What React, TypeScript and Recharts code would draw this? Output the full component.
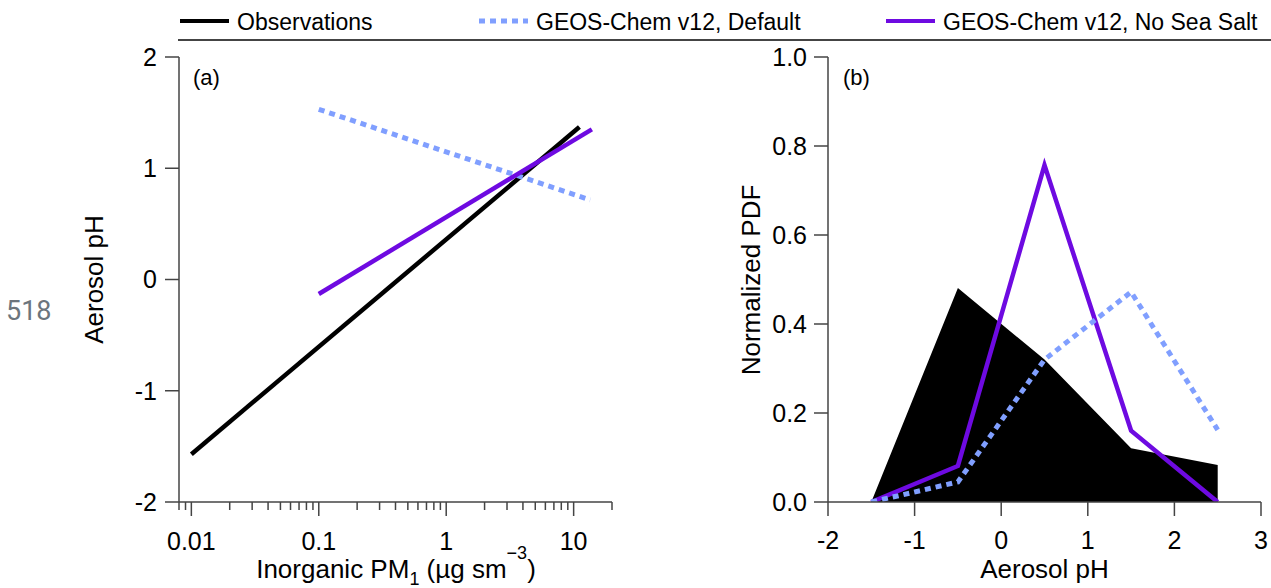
import { LineChart, ComposedChart, Line, Area, XAxis, YAxis } from "recharts"

// panel (a): fitted lines, inorganic PM1 vs aerosol pH
const OBS_FIT_PM = [0.01, 11.1]
const OBS_FIT_PH = [-1.57, 1.37]
const DEFAULT_FIT_PM = [0.1, 13.5]
const DEFAULT_FIT_PH = [1.53, 0.715]
const NOSALT_FIT_PM = [0.1, 13.9]
const NOSALT_FIT_PH = [-0.13, 1.35]

// panel (b): normalized pdf of aerosol pH
const PH_BINS = [-1.5, -0.5, 0.5, 1.5, 2.5]
const OBS_PDF = [0, 0.481, 0.32, 0.121, 0.083]
const DEFAULT_PDF = [0, 0.045, 0.32, 0.472, 0.162]
const NOSALT_PDF = [0, 0.081, 0.757, 0.16, 0]

const PH_TICKS_A = [-2, -1, 0, 1, 2]
const PM_TICKS = [0.008, 0.009, 0.01, 0.02, 0.03, 0.04, 0.05, 0.06, 0.07, 0.08, 0.09, 0.1, 0.2, 0.3, 0.4, 0.5, 0.6, 0.7, 0.8, 0.9, 1, 2, 3, 4, 5, 6, 7, 8, 9, 10, 20]
const PM_MAJOR = [0.01, 0.1, 1, 10]
const PH_TICKS_B = [-2, -1, 0, 1, 2, 3]
const PDF_TICKS = [0, 0.2, 0.4, 0.6, 0.8, 1.0]

const SERIES = [
    { name: "Observations", color: "#000000", dash: undefined },
    { name: "GEOS-Chem v12, Default", color: "#809fff", dash: "6 5" },
    { name: "GEOS-Chem v12, No Sea Salt", color: "#6e0ae1", dash: undefined },
]

const FONT = "'Liberation Sans', Arial, sans-serif"
const AXIS = "#444"

const pairs = (xs: number[], ys: number[]) => xs.map((x, i) => ({ x, y: ys[i] }))

const obsFit = pairs(OBS_FIT_PM, OBS_FIT_PH)
const defaultFit = pairs(DEFAULT_FIT_PM, DEFAULT_FIT_PH)
const noSaltFit = pairs(NOSALT_FIT_PM, NOSALT_FIT_PH)

const pdfData = PH_BINS.map((ph, i) => ({
    ph,
    obs: OBS_PDF[i],
    def: DEFAULT_PDF[i],
    nosalt: NOSALT_PDF[i],
}))

const LogTick = (props: any) => {
    const { x, y, payload } = props
    const v = payload.value
    const major = PM_MAJOR.includes(v)
    return (
        <g>
            <line x1={x} y1={y} x2={x} y2={y + (major ? 14 : 8)} stroke={AXIS} strokeWidth={1.5} />
            {major && (
                <text x={x} y={y + 48} textAnchor="middle" fontSize={25} fontFamily={FONT} fill="#000">
                    {String(v)}
                </text>
            )}
        </g>
    )
}

const tickStyle = { fontSize: 25, fontFamily: FONT, fill: "#000" }
const axisLine = { stroke: AXIS, strokeWidth: 1.5 }

const LEGEND_X = [180, 479, 886]

const App = () => {
    return (
        <div style={{ position: "absolute", left: 0, top: 0, width: 1271, height: 588, background: "#fff", overflow: "hidden" }}>

            <div style={{ position: "absolute", left: 0, top: 0 }}>
                <LineChart width={640} height={588} margin={{ top: 57, right: 28, bottom: 26, left: 100 }}>
                    <XAxis
                        type="number"
                        dataKey="x"
                        scale="log"
                        domain={[0.008, 20]}
                        allowDataOverflow
                        ticks={PM_TICKS}
                        interval={0}
                        tick={<LogTick />}
                        tickLine={false}
                        tickSize={0}
                        tickMargin={0}
                        axisLine={axisLine}
                        height={60}
                    />
                    <YAxis
                        type="number"
                        dataKey="y"
                        domain={[-2, 2]}
                        ticks={PH_TICKS_A}
                        interval={0}
                        allowDataOverflow
                        width={79}
                        tickSize={14}
                        tickMargin={8}
                        tick={tickStyle}
                        tickLine={axisLine}
                        axisLine={axisLine}
                    />
                    <Line data={obsFit} dataKey="y" type="linear" stroke={SERIES[0].color} strokeWidth={4.5} dot={false} isAnimationActive={false} />
                    <Line data={defaultFit} dataKey="y" type="linear" stroke={SERIES[1].color} strokeWidth={5} strokeDasharray={SERIES[1].dash} dot={false} isAnimationActive={false} />
                    <Line data={noSaltFit} dataKey="y" type="linear" stroke={SERIES[2].color} strokeWidth={4.5} dot={false} isAnimationActive={false} />
                </LineChart>
            </div>

            <div style={{ position: "absolute", left: 640, top: 0 }}>
                <ComposedChart width={631} height={588} data={pdfData} margin={{ top: 57, right: 10, bottom: 26, left: 108 }}>
                    <XAxis
                        type="number"
                        dataKey="ph"
                        domain={[-2, 3]}
                        ticks={PH_TICKS_B}
                        interval={0}
                        allowDataOverflow
                        height={60}
                        tickSize={14}
                        tickMargin={15}
                        tick={tickStyle}
                        tickLine={axisLine}
                        axisLine={axisLine}
                    />
                    <YAxis
                        type="number"
                        domain={[0, 1]}
                        ticks={PDF_TICKS}
                        interval={0}
                        allowDataOverflow
                        width={80}
                        tickSize={14}
                        tickMargin={7}
                        tick={tickStyle}
                        tickLine={axisLine}
                        axisLine={axisLine}
                        tickFormatter={(v: number) => v.toFixed(1)}
                    />
                    <Area dataKey="obs" type="linear" fill={SERIES[0].color} fillOpacity={1} stroke="none" isAnimationActive={false} />
                    <Line dataKey="nosalt" type="linear" stroke={SERIES[2].color} strokeWidth={4.5} dot={false} isAnimationActive={false} />
                    <Line dataKey="def" type="linear" stroke={SERIES[1].color} strokeWidth={5} strokeDasharray={SERIES[1].dash} dot={false} isAnimationActive={false} />
                </ComposedChart>
            </div>

            <svg width={1271} height={588} style={{ position: "absolute", left: 0, top: 0, pointerEvents: "none" }}>
                {SERIES.map((s, i) => (
                    <g key={s.name}>
                        <line x1={LEGEND_X[i]} y1={21} x2={LEGEND_X[i] + 49} y2={21} stroke={s.color} strokeWidth={s.dash ? 5 : 4} strokeDasharray={s.dash} />
                        <text x={LEGEND_X[i] + 57} y={30} fontSize={23} fontFamily={FONT} fill="#000">{s.name}</text>
                    </g>
                ))}
                <line x1={178} y1={40} x2={1271} y2={40} stroke={AXIS} strokeWidth={2} />

                <text x={193} y={85} fontSize={22} fontFamily={FONT} fill="#000">(a)</text>
                <text x={843} y={85} fontSize={22} fontFamily={FONT} fill="#000">(b)</text>

                <text transform="translate(103,279.5) rotate(-90)" textAnchor="middle" fontSize={26} fontFamily={FONT} fill="#000">Aerosol pH</text>
                <text transform="translate(760,280) rotate(-90)" textAnchor="middle" fontSize={26} fontFamily={FONT} fill="#000">Normalized PDF</text>

                <text x={396} y={578} textAnchor="middle" fontSize={26} fontFamily={FONT} fill="#000">
                    Inorganic PM<tspan fontSize={18} dy={7}>1</tspan>
                    <tspan dy={-7}> (µg sm</tspan>
                    <tspan fontSize={18} dy={-19}>−3</tspan>
                    <tspan dy={19}>)</tspan>
                </text>
                <text x={1044.5} y={578} textAnchor="middle" fontSize={26} fontFamily={FONT} fill="#000">Aerosol pH</text>

                <text x={6} y={320} fontSize={27} fontFamily="Roboto, sans-serif" fill="#6c757d">518</text>
            </svg>
        </div>
    )
}

export default App
